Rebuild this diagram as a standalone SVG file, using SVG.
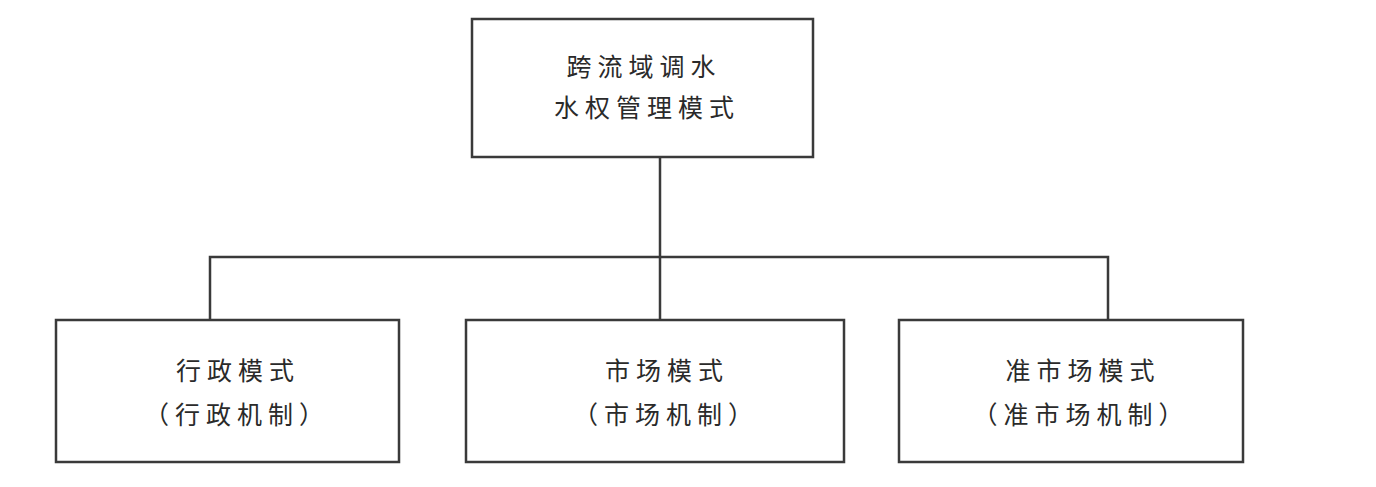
<svg xmlns="http://www.w3.org/2000/svg" width="1376" height="487" viewBox="0 0 1376 487">
<style>
.box{fill:#fff;stroke:#3a3a3a;stroke-width:2.5}
.ln{fill:none;stroke:#3a3a3a;stroke-width:2.5}
.t{font-family:"Noto Sans CJK SC","Noto Sans CJK JP",sans-serif;font-size:25px;fill:#2a2a2a;text-anchor:middle;letter-spacing:6px}
</style>
<rect width="1376" height="487" fill="#fff"/>
<g id="connectors">
<line class="ln" x1="660" y1="157" x2="660" y2="320"/>
<polyline class="ln" points="210,319 210,257 1108,257 1108,320"/>
</g>
<g id="root">
<rect class="box" x="472" y="19" width="341" height="138"/>
<text class="t" x="644" y="76">跨流域调水</text>
<text class="t" x="647" y="117">水权管理模式</text>
</g>
<g id="admin">
<rect class="box" x="56" y="320" width="343" height="142"/>
<text class="t" x="238" y="380">行政模式</text>
<text class="t" x="237" y="424">（行政机制）</text>
</g>
<g id="market">
<rect class="box" x="466" y="320" width="378" height="142"/>
<text class="t" x="667" y="380">市场模式</text>
<text class="t" x="666" y="424">（市场机制）</text>
</g>
<g id="quasi">
<rect class="box" x="899" y="320" width="344" height="142"/>
<text class="t" x="1083" y="380">准市场模式</text>
<text class="t" x="1081" y="424">（准市场机制）</text>
</g>
</svg>
